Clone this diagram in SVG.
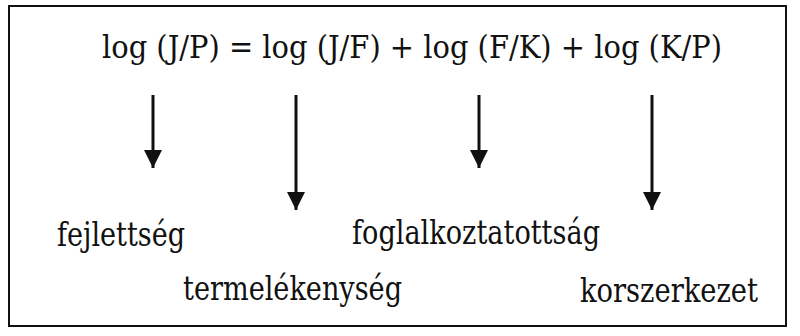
<svg xmlns="http://www.w3.org/2000/svg" width="800" height="336" viewBox="0 0 800 336">
<style>
  text { font-family: 'DejaVu Serif', serif; font-stretch: condensed; fill: #111; }
  .eq { font-size: 31px; }
  .lbl { font-size: 33px; }
  .arr { stroke: #111; stroke-width: 3; fill: none; }
</style>
<defs>
  <marker id="ah" markerUnits="userSpaceOnUse" markerWidth="18" markerHeight="18" refX="16" refY="8" orient="auto" viewBox="0 0 16 16">
    <path d="M0,0 L16,8 L0,16 Z" fill="#111"/>
  </marker>
</defs>
<rect x="9" y="6" width="777" height="320" fill="#fff" stroke="#111" stroke-width="2"/>
<g id="equation">
  <text class="eq" x="102" y="58" textLength="620" lengthAdjust="spacingAndGlyphs">log (J/P) = log (J/F) + log (F/K) + log (K/P)</text>
</g>
<g id="connectors">
  <line class="arr" x1="153" y1="95" x2="153" y2="168" marker-end="url(#ah)"/>
  <line class="arr" x1="296" y1="95" x2="296" y2="210" marker-end="url(#ah)"/>
  <line class="arr" x1="479" y1="95" x2="479" y2="168" marker-end="url(#ah)"/>
  <line class="arr" x1="652" y1="95" x2="652" y2="210" marker-end="url(#ah)"/>
</g>
<g id="fejlettseg"><text class="lbl" x="57" y="246" textLength="128" lengthAdjust="spacingAndGlyphs">fejlettség</text></g>
<g id="termelekenyseg"><text class="lbl" x="183" y="300" textLength="219" lengthAdjust="spacingAndGlyphs">termelékenység</text></g>
<g id="foglalkoztatottsag"><text class="lbl" x="352" y="244" textLength="248" lengthAdjust="spacingAndGlyphs">foglalkoztatottság</text></g>
<g id="korszerkezet"><text class="lbl" x="580" y="302" textLength="178" lengthAdjust="spacingAndGlyphs">korszerkezet</text></g>
</svg>
